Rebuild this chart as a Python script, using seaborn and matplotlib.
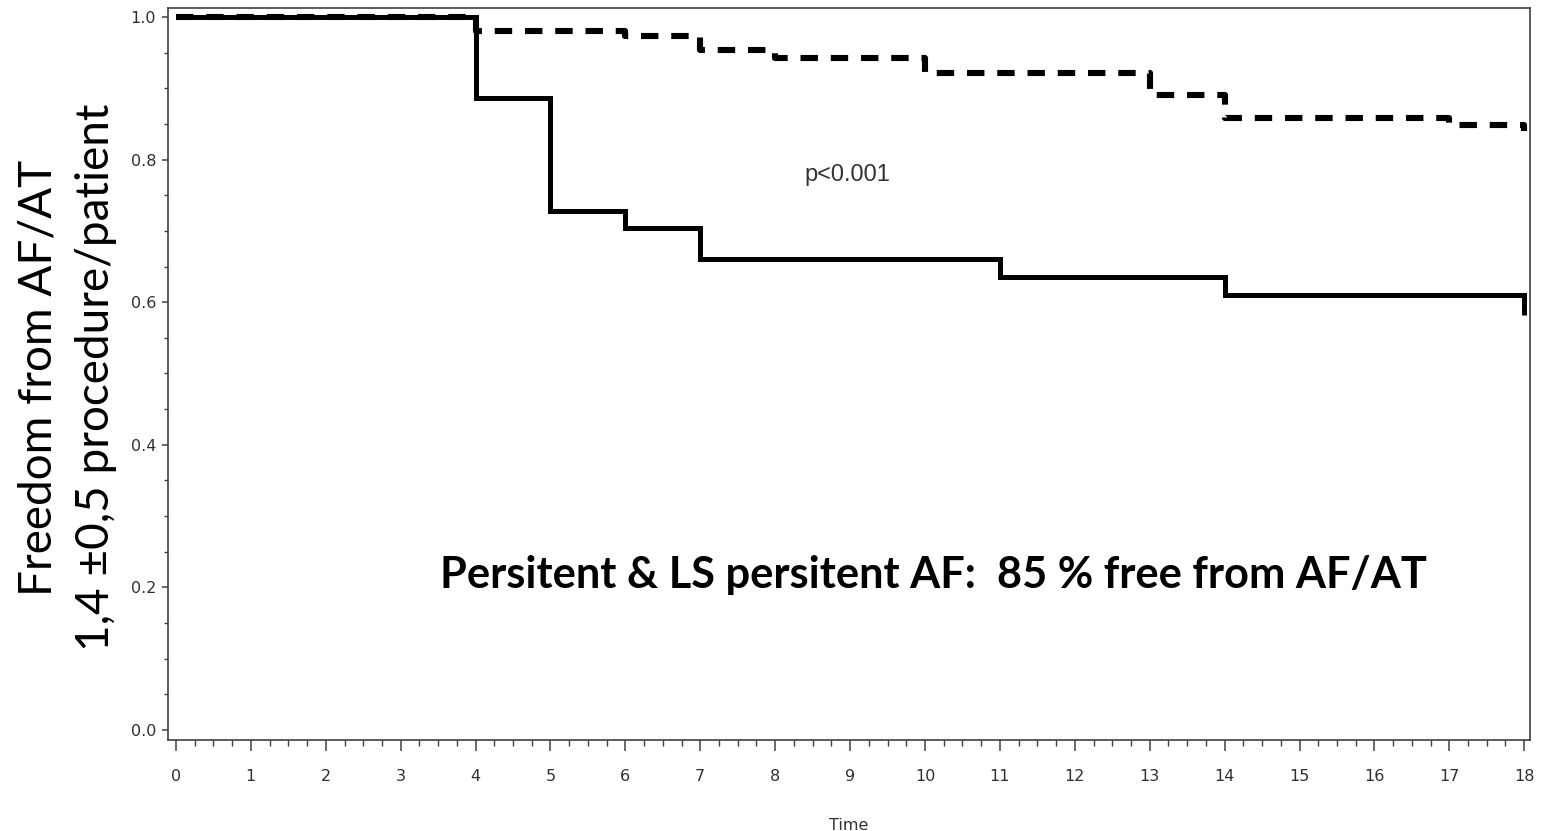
import matplotlib
matplotlib.use("Agg")
import matplotlib.pyplot as plt
import seaborn as sns
import pandas as pd

# ---- data ----
time_solid = [0, 4, 5, 6, 7, 11, 14, 18]
surv_solid = [1.0, 0.886, 0.728, 0.704, 0.660, 0.636, 0.610, 0.582]

time_dashed = [0, 4, 6, 7, 8, 10, 13, 14, 17, 18]
surv_dashed = [1.0, 0.980, 0.973, 0.954, 0.943, 0.921, 0.890, 0.858, 0.848, 0.840]

x_ticks = list(range(0, 19))
y_ticks = [0.0, 0.2, 0.4, 0.6, 0.8, 1.0]

ylabel_text = "Freedom from AF/AT\n1,4 \u00b10,5 procedure/patient"
pvalue_text = "p<0.001"
note_text = "Persitent & LS persitent AF:  85 % free from AF/AT"

df_solid = pd.DataFrame({"Time": time_solid, "Survival": surv_solid})
df_dashed = pd.DataFrame({"Time": time_dashed, "Survival": surv_dashed})

sns.set_theme(style="white")
plt.rcParams["font.family"] = ["DejaVu Sans"]

fig = plt.figure(figsize=(15.48, 8.31), dpi=100)
ax = fig.add_axes([0.1085, 0.1095, 0.88, 0.8809])

sns.lineplot(data=df_solid, x="Time", y="Survival", ax=ax, color="black",
             linewidth=3.6, drawstyle="steps-post", estimator=None,
             solid_joinstyle="miter", solid_capstyle="butt")
sns.lineplot(data=df_dashed, x="Time", y="Survival", ax=ax, color="black",
             linewidth=4.4, drawstyle="steps-post", estimator=None,
             linestyle=(0, (2.85, 2.1)), dash_capstyle="butt")

ax.set_xlim(-0.107, 18.08)
ax.set_ylim(-0.014, 1.0126)
ax.set_xticks(x_ticks)
ax.set_xticklabels([str(t) for t in x_ticks])
ax.set_yticks(y_ticks)
ax.set_yticklabels([f"{v:.1f}" for v in y_ticks])
ax.xaxis.set_minor_locator(matplotlib.ticker.MultipleLocator(0.25))
ax.yaxis.set_minor_locator(matplotlib.ticker.MultipleLocator(0.05))

spine_color = "#404040"
for s in ax.spines.values():
    s.set_color(spine_color)
    s.set_linewidth(1.2)
    s.set_visible(True)

ax.tick_params(axis="x", which="major", direction="out", length=8, width=1.1,
               color=spine_color, bottom=True, labelsize=11.5, labelcolor="#303030", pad=13)
ax.tick_params(axis="x", which="minor", direction="out", length=4.5, width=1.0,
               color=spine_color, bottom=True)
ax.tick_params(axis="y", which="major", direction="out", length=4.5, width=1.1,
               color=spine_color, left=True, labelsize=11.5, labelcolor="#303030", pad=4)
ax.tick_params(axis="y", which="minor", direction="out", length=3, width=1.0,
               color=spine_color, left=True)

ax.set_xlabel("Time", fontsize=11.5, color="#303030", labelpad=24)
ax.set_ylabel(ylabel_text, fontsize=33, family="Lato", color="black",
              linespacing=1.45)
ax.yaxis.label.set_verticalalignment("center")
ax.yaxis.set_label_coords(-0.0742, 0.495)

ax.text(8.97, 0.778, pvalue_text, fontsize=17, family="Liberation Sans",
        color="#333333", ha="center", va="center")
ax.text(10.11, 0.217, note_text, fontsize=31.2, family="Lato", fontweight="bold",
        color="black", ha="center", va="center")

fig.savefig("out.png", dpi=100, facecolor="white")
